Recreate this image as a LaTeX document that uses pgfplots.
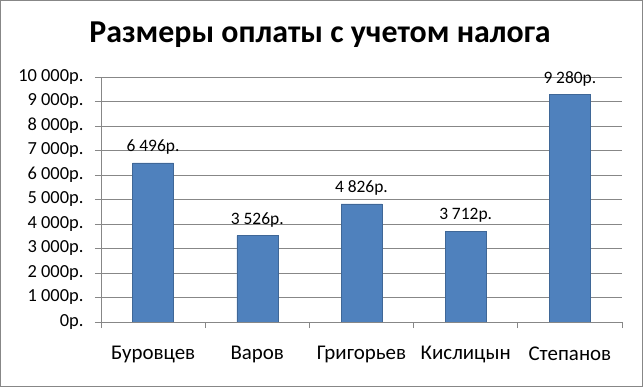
\documentclass[border=0pt]{standalone}
\usepackage{fontspec}
\setmainfont{Carlito}
\usepackage{pgfplots}
\pgfplotsset{compat=1.18}
\definecolor{barblue}{HTML}{4F81BD}
\definecolor{axgray}{HTML}{878787}
\newcommand{\nsp}{\hspace{0.22em}}
\begin{document}
\begin{tikzpicture}
\useasboundingbox (0,0) rectangle (643bp,387bp);
\draw[axgray, line width=0.8bp] (0.6bp,0.6bp) rectangle (642.4bp,386.4bp);
\node[font=\bfseries\fontsize{32}{36}\selectfont, anchor=center] at (320bp,352bp) {Размеры оплаты с учетом налога};
\begin{axis}[
  at={(101bp,65bp)}, anchor=south west,
  scale only axis, width=521bp, height=245bp,
  xmin=-0.5, xmax=4.5, ymin=0, ymax=10000,
  scaled y ticks=false,
  axis x line*=bottom, axis y line*=left,
  axis line style={axgray, line width=0.8bp},
  xtick={0,1,2,3,4},
  xticklabels={Буровцев,Варов,Григорьев,Кислицын,Степанов},
  major x tick style={draw=none},
  minor xtick={-0.5,0.5,1.5,2.5,3.5,4.5},
  minor x tick style={axgray, line width=0.8bp},
  minor tick length=6bp,
  major tick length=6bp,
  tick align=outside,
  ytick={0,1000,...,10000},
  yticklabels={0р.,1\nsp000р.,2\nsp000р.,3\nsp000р.,4\nsp000р.,5\nsp000р.,6\nsp000р.,7\nsp000р.,8\nsp000р.,9\nsp000р.,10\nsp000р.},
  y tick style={axgray, line width=0.8bp},
  ymajorgrids, grid style={axgray, line width=0.8bp},
  xticklabel style={font=\fontsize{21}{24}\selectfont, yshift=-15bp},
  yticklabel style={font=\fontsize{18.5}{20}\selectfont, xshift=-8bp},
  ybar, bar width=41bp,
  point meta=explicit symbolic,
  nodes near coords={\pgfplotspointmeta},
  nodes near coords style={font=\fontsize{17.5}{19}\selectfont, anchor=south, yshift=5bp},
]
\addplot[fill=barblue, draw=barblue!80!black] coordinates {
  (0,6496) [6\nsp496р.]
  (1,3526) [3\nsp526р.]
  (2,4826) [4\nsp826р.]
  (3,3712) [3\nsp712р.]
  (4,9280) [9\nsp280р.]
};
\end{axis}
\end{tikzpicture}
\end{document}
